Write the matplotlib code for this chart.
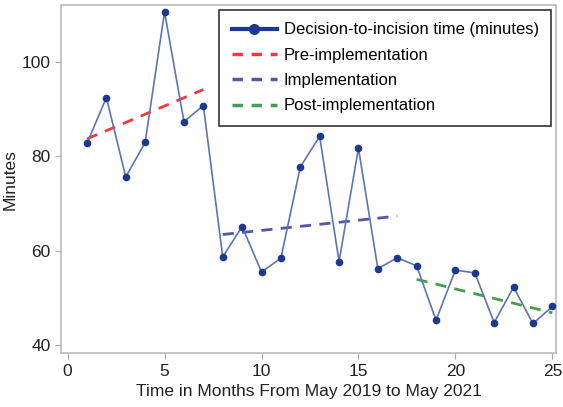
import numpy as np
import matplotlib.pyplot as plt
from matplotlib.lines import Line2D

plt.rcParams['font.family'] = ['Liberation Sans', 'DejaVu Sans']

# monthly decision-to-incision time
months = np.arange(1, 26)
minutes = [82.7, 92.4, 75.6, 82.9, 110.5, 87.3, 90.7,
           58.7, 65.1, 55.5, 58.4, 77.7, 84.2, 57.7, 81.7, 56.2, 58.5,
           56.8, 45.3, 55.9, 55.3, 44.8, 52.3, 44.6, 48.2]
minutes = np.array(minutes)

# phases (month ranges) for the trend lines
phases = [("Pre-implementation", 1, 7, "#ec3a3d"),
          ("Implementation", 8, 17, "#4f57a6"),
          ("Post-implementation", 18, 25, "#44a04c")]

fig, ax = plt.subplots(figsize=(5.63, 4.07), dpi=100)
fig.subplots_adjust(left=0.108, right=0.988, top=0.988, bottom=0.132)

ax.plot(months, minutes, color="#5d74b6", lw=1.2, zorder=3)
ax.plot(months, minutes, "o", color="#1c3990", ms=4.5, zorder=4)

handles = [Line2D([], [], color="#1c3990", lw=3, marker="o", ms=7)]
for name, a, b, col in phases:
    m = (months >= a) & (months <= b)
    k, c = np.polyfit(months[m], minutes[m], 1)
    xs = np.array([a, b])
    ax.plot(xs, k * xs + c, "--", color=col, lw=2, dashes=(4, 3), zorder=2)
    handles.append(Line2D([], [], color=col, lw=2.5, ls="--", dashes=(3, 2.5)))

labels = ["Decision-to-incision time (minutes)"] + [p[0] for p in phases]
leg = ax.legend(handles, labels, loc="upper right", fontsize=12, frameon=True,
                fancybox=False, edgecolor="black", handlelength=2.7,
                borderaxespad=0.3, labelspacing=0.62, handletextpad=0.4,
                borderpad=0.75)
leg.get_frame().set_linewidth(1.2)

ax.set_xlim(-0.35, 25.2)
ax.set_ylim(38.3, 112)
ax.set_xticks([0, 5, 10, 15, 20, 25])
ax.set_yticks([40, 60, 80, 100])
ax.tick_params(labelsize=12.5, color="#aaaaaa", length=4, labelcolor="#222222")
for s in ax.spines.values():
    s.set_color("#bbbbbb")
    s.set_linewidth(1.2)

ax.set_xlabel("Time in Months From May 2019 to May 2021", fontsize=12.5, color="#222222")
ax.set_ylabel("Minutes", fontsize=12.5, color="#222222", labelpad=3)

fig.savefig("out.png")
